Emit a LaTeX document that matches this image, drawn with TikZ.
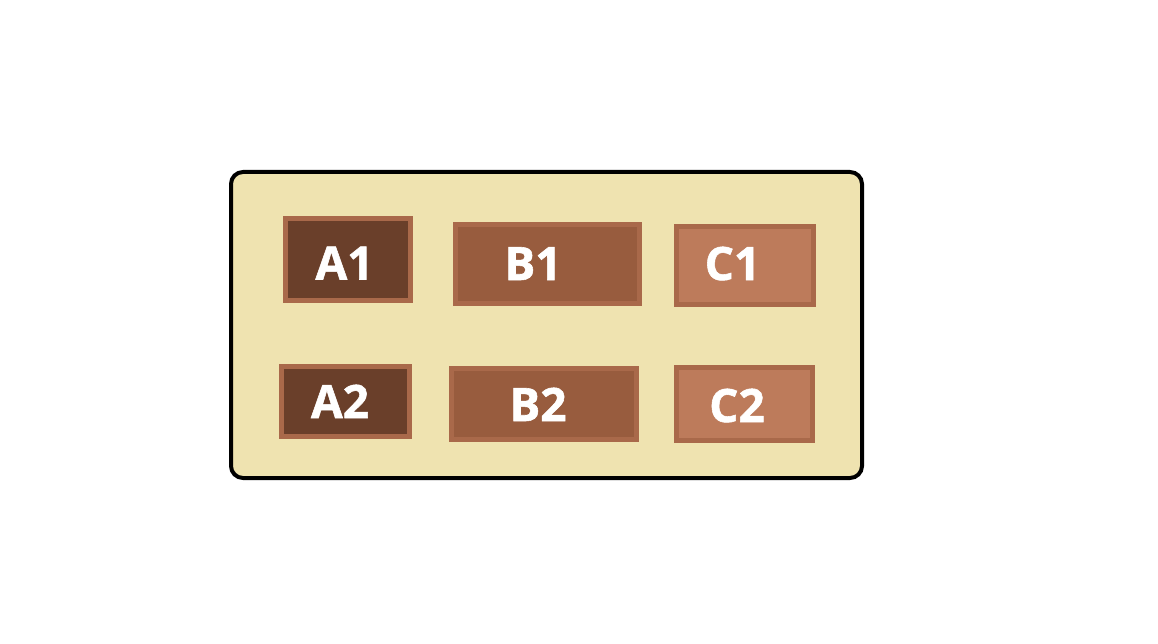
\documentclass[tikz,border=0pt]{standalone}
\usepackage{fontspec}
\setmainfont{Open Sans}
\newfontfamily\lblfont[FakeBold=1.2]{Open Sans Bold}
\definecolor{panelfill}{HTML}{EFE3B0}
\definecolor{boxborder}{HTML}{A9694A}
\definecolor{afill}{HTML}{6A3F2A}
\definecolor{bfill}{HTML}{985C3E}
\definecolor{cfill}{HTML}{BD7B5B}
\begin{document}
\begin{tikzpicture}[x=1pt,y=-1pt,
  panel/.style={draw=black,line width=4pt,fill=panelfill,rounded corners=12pt},
  cell/.style={draw=boxborder,line width=5pt,rectangle,inner sep=0pt},
  lbl/.style={anchor=base,inner sep=0pt,text=white,font=\lblfont\fontsize{46}{46}\selectfont}]
\useasboundingbox (0,0) rectangle (1158,644);
\draw[panel] (231,172) rectangle (862,478);
\node[cell,fill=afill,minimum width=125pt,minimum height=82pt] (a1) at (348,259.5) {};
\node[cell,fill=bfill,minimum width=184pt,minimum height=79pt] (b1) at (547.5,264) {};
\node[cell,fill=cfill,minimum width=137pt,minimum height=78pt] (c1) at (745,265.5) {};
\node[cell,fill=afill,minimum width=128pt,minimum height=70pt] (a2) at (345.5,401.5) {};
\node[cell,fill=bfill,minimum width=185pt,minimum height=71pt] (b2) at (544,404) {};
\node[cell,fill=cfill,minimum width=136pt,minimum height=73pt] (c2) at (744.5,404) {};
\node[lbl] (ta1) at (344.5,279.5) {A1};
\node[lbl] (tb1) at (533,280) {B1};
\node[lbl] (tc1) at (732.5,280) {C1};
\node[lbl] (ta2) at (340,418) {A2};
\node[lbl] (tb2) at (538,421) {B2};
\node[lbl] (tc2) at (737,422) {C2};
\end{tikzpicture}
\end{document}
